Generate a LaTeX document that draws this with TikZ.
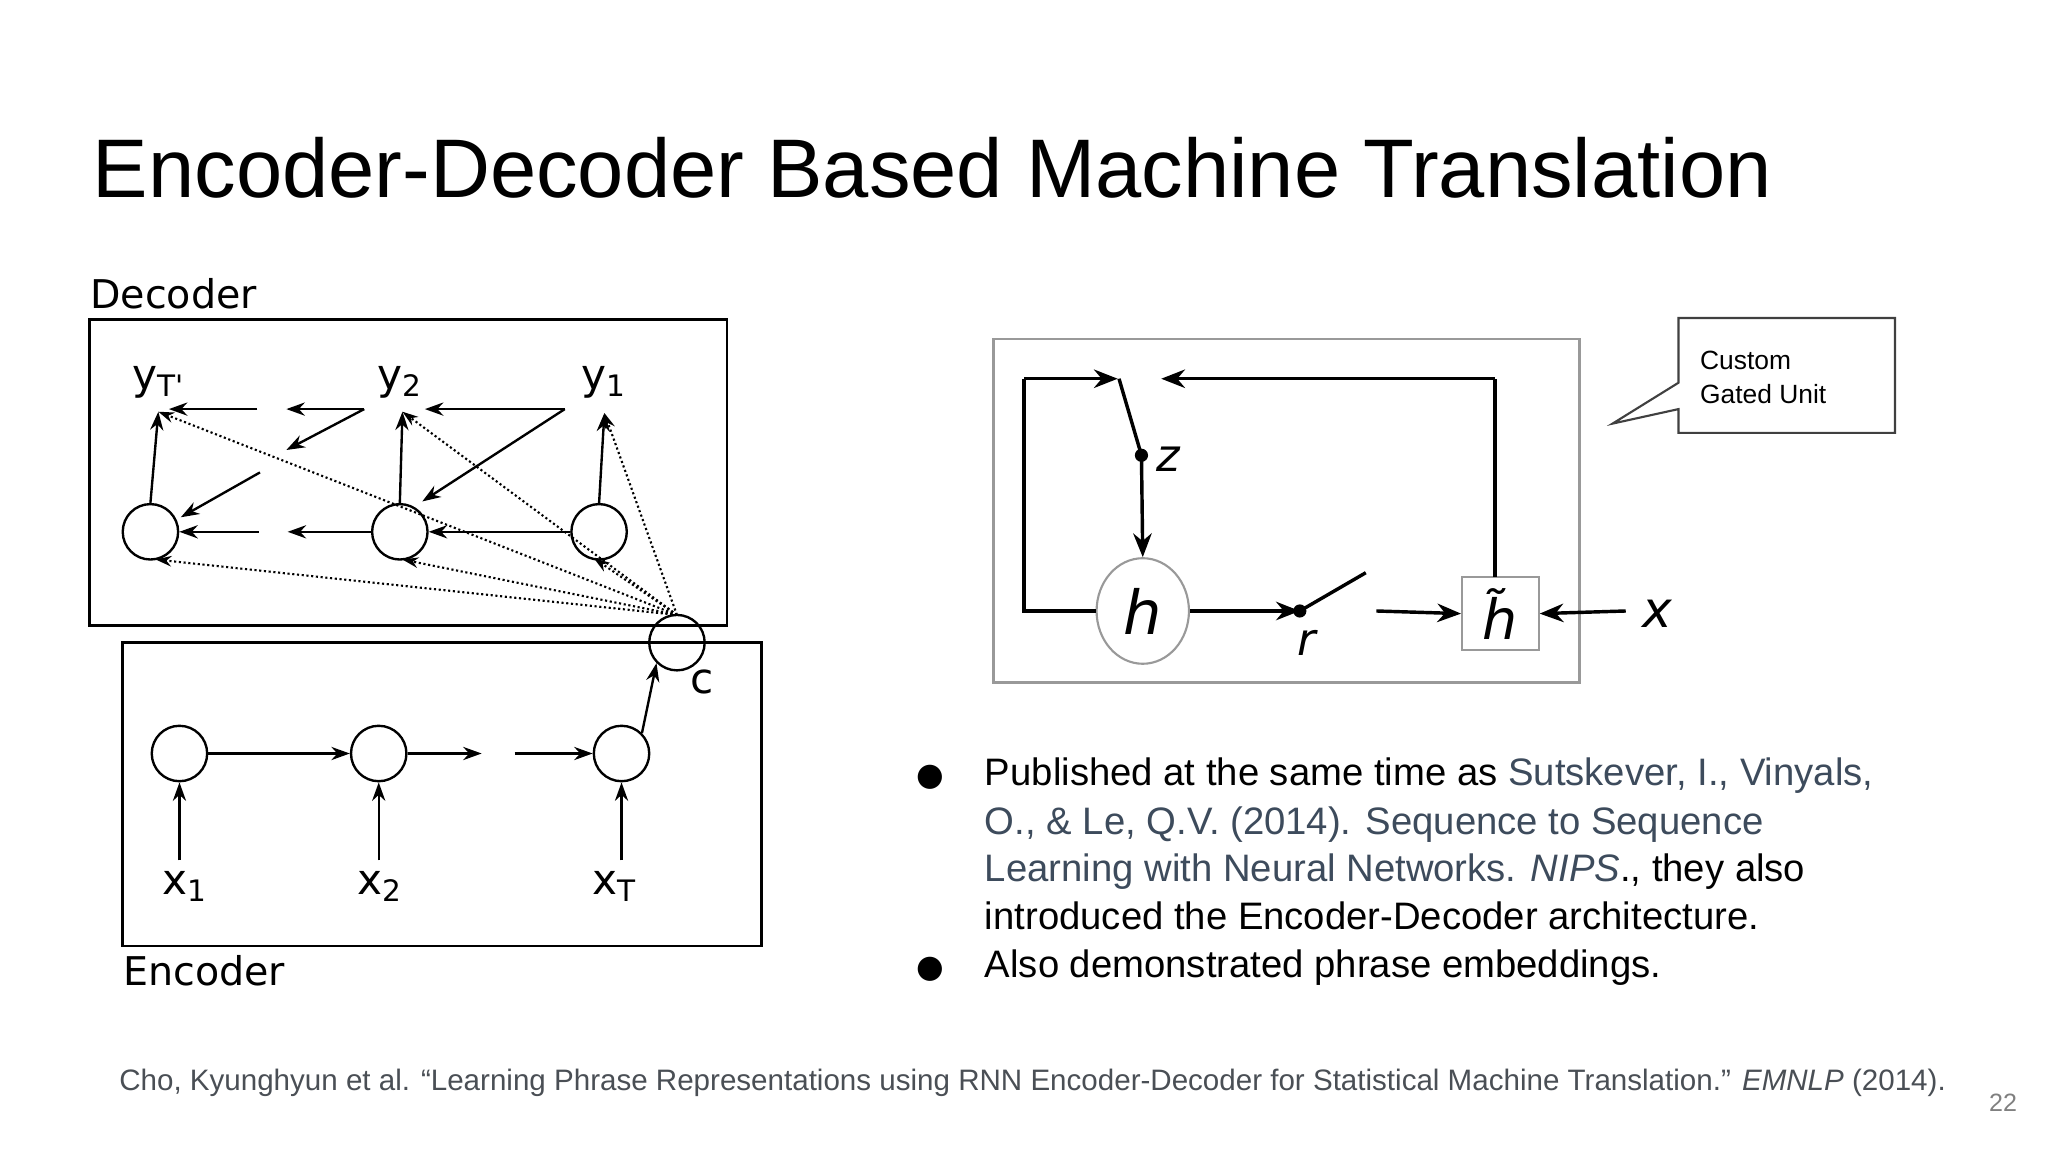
\documentclass[tikz,border=0pt]{standalone}
\usepackage{fontspec}
\setmainfont{Liberation Sans}
\newfontfamily\dv{DejaVu Sans}
\usetikzlibrary{arrows.meta,shapes.geometric}
\definecolor{linkc}{HTML}{3D4B5C}
\definecolor{citec}{HTML}{4A4F55}
\begin{document}
\begin{tikzpicture}[x=0.5pt,y=-0.5pt,
  arr/.style={-{Stealth[length=7pt,width=5pt]},line width=0.9pt},
  dot/.style={densely dotted,line width=0.8pt,-{Stealth[length=6pt,width=4pt]}},
  cir/.style={draw,circle,minimum size=21pt,inner sep=0pt,line width=0.9pt},
  lab/.style={font=\dv\fontsize{16}{18}\selectfont,inner sep=0pt},
  bul/.style={anchor=base west,inner sep=0pt,font=\fontsize{14.5}{17}\selectfont},
  gl/.style={line width=1.3pt},
  ga/.style={line width=1.3pt,-{Stealth[length=9pt,width=7pt]}}]
\useasboundingbox (0,0) rectangle (1552,880);
\fill[white] (0,0) rectangle (1552,880);
% title
\node[anchor=base west,inner sep=0pt,font=\fontsize{31.5}{36}\selectfont] (title) at (70,150) {Encoder-Decoder Based Machine Translation};
% left diagram
\node[anchor=base west,inner sep=0pt,font=\dv\fontsize{15}{18}\selectfont] (declab) at (68,234) {Decoder};
\node[anchor=base west,inner sep=0pt,font=\dv\fontsize{15}{18}\selectfont] (enclab) at (93,747) {Encoder};
\node[draw,line width=1pt,minimum width=241.5pt,minimum height=116pt,inner sep=0pt] (decbox) at (309.5,358) {};
\node[draw,line width=1pt,minimum width=242pt,minimum height=115pt,inner sep=0pt] (encbox) at (335,602) {};
\node[cir] (d1) at (114,403) {};
\node[cir] (d2) at (303,403) {};
\node[cir] (d3) at (454,403) {};
\node[cir] (cc) at (513,487) {};
\node[lab] (cl) at (532,517) {c};
\node[cir] (e1) at (136,571) {};
\node[cir] (e2) at (287,571) {};
\node[cir] (e3) at (471,571) {};
\node[lab] (yT) at (120,290) {y\textsubscript{T'}};
\node[lab] (y2) at (303,290) {y\textsubscript{2}};
\node[lab] (y1) at (458,290) {y\textsubscript{1}};
\node[lab] (x1) at (140,672) {x\textsubscript{1}};
\node[lab] (x2) at (288,672) {x\textsubscript{2}};
\node[lab] (xT) at (466,672) {x\textsubscript{T}};
\coordinate (yTa) at (120,312); \coordinate (y2a) at (305,312); \coordinate (y1a) at (458,313);
\foreach \c/\x in {e1/136,e2/287,e3/471}{\draw[arr] (\x,652) -- (\c.south);}
\draw[arr] (e1) -- (e2);
\coordinate (m1) at (365,571); \coordinate (m2) at (390,571);
\draw[arr] (e2) -- (m1);
\draw[arr] (m2) -- (e3);
\draw[arr] (e3.north east) -- (cc.south west);
\draw[arr] (d1.north) -- (yTa);
\draw[arr] (d2.north) -- (y2a);
\draw[arr] (d3.north) -- (y1a);
\draw[arr] (d3.west) -- (d2.east);
\coordinate (h1) at (218,403); \coordinate (h2) at (196,403);
\draw[arr] (d2.west) -- (h1);
\draw[arr] (h2) -- (d1.east);
\coordinate (t1) at (428,310); \coordinate (t2) at (276,310);
\coordinate (t3) at (217,310); \coordinate (t4) at (195,310);
\draw[arr] (t1) -- (322,310);
\draw[arr] (t1) -- (320,380);
\draw[arr] (t2) -- (t3);
\draw[arr] (t2) -- (217,341);
\draw[arr] (t4) -- (128,310);
\draw[arr] (197,358) -- (137,392);
\coordinate (ct) at (513,466);
\draw[dot] (ct) -- (yTa);
\draw[dot] (ct) -- (y2a);
\draw[dot] (ct) -- (y1a);
\draw[dot] (ct) -- (118,424);
\draw[dot] (ct) -- (305,424);
\draw[dot] (ct) -- (450,423);
% right diagram
\node[draw=gray!80,line width=1pt,minimum width=222pt,minimum height=130pt,inner sep=0pt] (gbox) at (975,387) {};
\node[draw=gray!80,ellipse,line width=0.8pt,minimum width=35pt,minimum height=40pt,inner sep=0pt,font=\dv\itshape\fontsize{23}{26}\selectfont] (h) at (866,463) {h};
\node[draw=gray!80,line width=0.8pt,minimum width=29pt,minimum height=27.5pt,inner sep=0pt,font=\dv\itshape\fontsize{21}{26}\selectfont] (ht) at (1137,465) {\~{h}};
\node[inner sep=0pt,font=\dv\itshape\fontsize{19}{22}\selectfont] (xx) at (1256,465) {x};
\node[inner sep=0pt,font=\dv\itshape\fontsize{17}{20}\selectfont] (z) at (885,348) {z};
\node[inner sep=0pt,font=\dv\itshape\fontsize{17}{20}\selectfont] (r) at (990,487) {r};
\coordinate (zd) at (865,345); \coordinate (rd) at (985,463);
\fill (zd) circle (5); \fill (rd) circle (5);
\draw[gl] (h.west) -- (776,463) -- (776,287);
\draw[ga] (776,287) -- (847,287);
\draw[gl] (848,287) -- (zd);
\draw[ga] (zd) -- (h.north);
\draw[ga] (h.east) -- (rd);
\draw[gl] (rd) -- (1035,434);
\draw[ga] (1043,463) -- (ht.west);
\draw[ga] (1232,463) -- (ht.east);
\draw[gl] (1133,437) -- (1133,287);
\draw[ga] (1133,287) -- (880,287);
% callout
\draw[line width=0.8pt,fill=white,draw=black!75] (1272,241) -- (1436,241) -- (1436,328) -- (1272,328) -- (1272,310) -- (1222,321) -- (1272,290) -- cycle;
\node[anchor=base west,inner sep=0pt,font=\fontsize{10}{12}\selectfont] (cust) at (1288,280) {Custom};
\node[anchor=base west,inner sep=0pt,font=\fontsize{10}{12}\selectfont] (gated) at (1288,306) {Gated Unit};
% bullets
\node[anchor=base west,inner sep=0pt,font=\dv\fontsize{12}{17}\selectfont] (b1) at (694,595) {●};
\node[anchor=base west,inner sep=0pt,font=\dv\fontsize{12}{17}\selectfont] (b2) at (694,741) {●};
\node[bul] (l1) at (746,595) {Published at the same time as \textcolor{linkc}{Sutskever, I., Vinyals,}};
\node[bul,text=linkc] (l2) at (746,632) {O., \& Le, Q.V. (2014). Sequence to Sequence};
\node[bul] (l3) at (746,668) {\textcolor{linkc}{Learning with Neural Networks. \textit{NIPS}}., they also};
\node[bul] (l4) at (746,704) {introduced the Encoder-Decoder architecture.};
\node[bul] (l5) at (746,741) {Also demonstrated phrase embeddings.};
% citation
\node[anchor=base west,inner sep=0pt,text=citec,font=\fontsize{11}{13}\selectfont] (cite) at (90,826) {\resizebox{692pt}{!}{Cho, Kyunghyun et al. “Learning Phrase Representations using RNN Encoder-Decoder for Statistical Machine Translation.” \textit{EMNLP} (2014).}};
\node[anchor=base west,inner sep=0pt,text=gray,font=\fontsize{9.5}{11}\selectfont] (pg) at (1507,842) {22};
\end{tikzpicture}
\end{document}
